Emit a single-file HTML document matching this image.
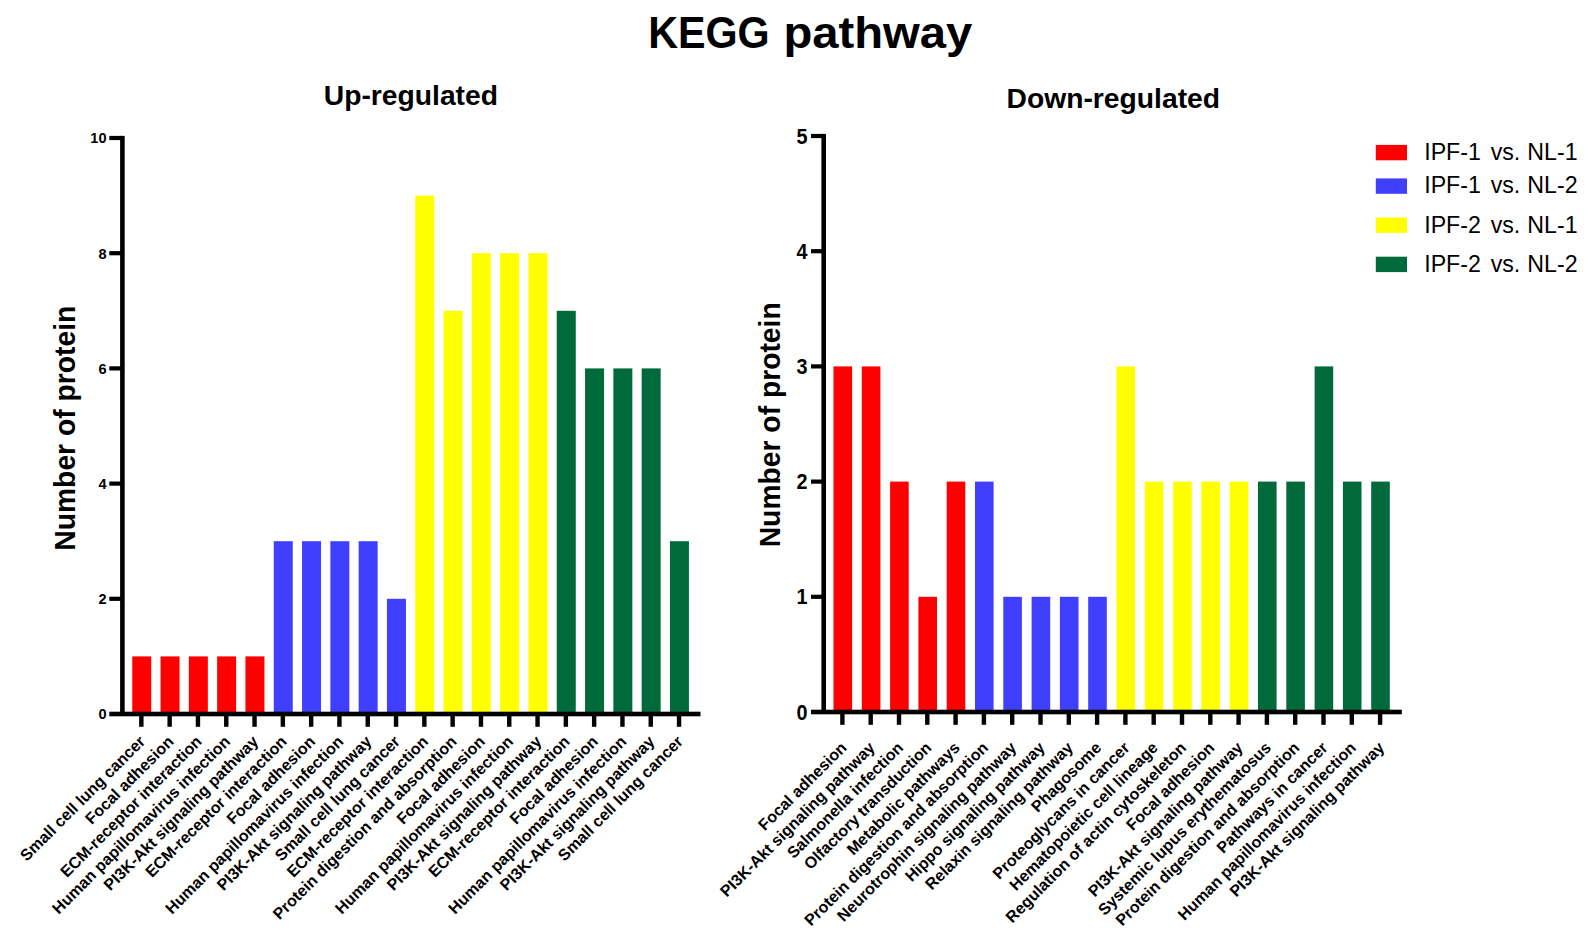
<!DOCTYPE html>
<html lang="en"><head><meta charset="utf-8"><title>KEGG pathway</title>
<style>
html,body{margin:0;padding:0;background:#fff;}
body{width:1592px;height:942px;overflow:hidden;}
svg{display:block;font-family:"Liberation Sans",sans-serif;}
.b{font-weight:bold;}
.xl{font-weight:bold;font-size:16.08px;text-anchor:end;}
.yl{font-weight:bold;font-size:15px;text-anchor:end;}
.yr{font-weight:bold;font-size:22px;text-anchor:end;}
.lg{font-size:23.2px;}
</style></head><body>
<svg width="1592" height="942" viewBox="0 0 1592 942">
<rect width="1592" height="942" fill="#fff"/>
<text class="b" y="47.7" font-size="44"><tspan x="648.2" textLength="121.5" lengthAdjust="spacingAndGlyphs">KEGG</tspan><tspan> </tspan><tspan x="783.4" textLength="189" lengthAdjust="spacingAndGlyphs">pathway</tspan></text>
<text class="b" x="410.9" y="104.9" font-size="28.25" text-anchor="middle">Up-regulated</text>
<text class="b" x="1113.3" y="108.2" font-size="28.25" text-anchor="middle">Down-regulated</text>
<text class="b" font-size="28.8" text-anchor="middle" transform="translate(74.9,428.2) rotate(-90)" textLength="245" lengthAdjust="spacingAndGlyphs">Number of protein</text>
<text class="b" font-size="28.8" text-anchor="middle" transform="translate(779.9,424.8) rotate(-90)" textLength="245" lengthAdjust="spacingAndGlyphs">Number of protein</text>
<g>
<rect x="132.25" y="656.40" width="19.00" height="57.60" fill="#fe0000"/>
<rect x="160.55" y="656.40" width="19.00" height="57.60" fill="#fe0000"/>
<rect x="188.85" y="656.40" width="19.00" height="57.60" fill="#fe0000"/>
<rect x="217.15" y="656.40" width="19.00" height="57.60" fill="#fe0000"/>
<rect x="245.45" y="656.40" width="19.00" height="57.60" fill="#fe0000"/>
<rect x="273.75" y="541.20" width="19.00" height="172.80" fill="#3f3ffd"/>
<rect x="302.05" y="541.20" width="19.00" height="172.80" fill="#3f3ffd"/>
<rect x="330.35" y="541.20" width="19.00" height="172.80" fill="#3f3ffd"/>
<rect x="358.65" y="541.20" width="19.00" height="172.80" fill="#3f3ffd"/>
<rect x="386.95" y="598.80" width="19.00" height="115.20" fill="#3f3ffd"/>
<rect x="415.25" y="195.60" width="19.00" height="518.40" fill="#ffff00"/>
<rect x="443.55" y="310.80" width="19.00" height="403.20" fill="#ffff00"/>
<rect x="471.85" y="253.20" width="19.00" height="460.80" fill="#ffff00"/>
<rect x="500.15" y="253.20" width="19.00" height="460.80" fill="#ffff00"/>
<rect x="528.45" y="253.20" width="19.00" height="460.80" fill="#ffff00"/>
<rect x="556.75" y="310.80" width="19.00" height="403.20" fill="#006a3b"/>
<rect x="585.05" y="368.40" width="19.00" height="345.60" fill="#006a3b"/>
<rect x="613.35" y="368.40" width="19.00" height="345.60" fill="#006a3b"/>
<rect x="641.65" y="368.40" width="19.00" height="345.60" fill="#006a3b"/>
<rect x="669.95" y="541.20" width="19.00" height="172.80" fill="#006a3b"/>
</g>
<g fill="#000">
<rect x="120.10" y="135.90" width="4.60" height="578.10"/>
<rect x="109.30" y="711.70" width="591.20" height="4.60"/>
<rect x="109.30" y="596.70" width="13.10" height="4.20"/>
<rect x="109.30" y="481.50" width="13.10" height="4.20"/>
<rect x="109.30" y="366.30" width="13.10" height="4.20"/>
<rect x="109.30" y="251.10" width="13.10" height="4.20"/>
<rect x="109.30" y="135.90" width="13.10" height="4.20"/>
<rect x="139.15" y="714.00" width="4.40" height="12.80"/>
<rect x="167.45" y="714.00" width="4.40" height="12.80"/>
<rect x="195.75" y="714.00" width="4.40" height="12.80"/>
<rect x="224.05" y="714.00" width="4.40" height="12.80"/>
<rect x="252.35" y="714.00" width="4.40" height="12.80"/>
<rect x="280.65" y="714.00" width="4.40" height="12.80"/>
<rect x="308.95" y="714.00" width="4.40" height="12.80"/>
<rect x="337.25" y="714.00" width="4.40" height="12.80"/>
<rect x="365.55" y="714.00" width="4.40" height="12.80"/>
<rect x="393.85" y="714.00" width="4.40" height="12.80"/>
<rect x="422.15" y="714.00" width="4.40" height="12.80"/>
<rect x="450.45" y="714.00" width="4.40" height="12.80"/>
<rect x="478.75" y="714.00" width="4.40" height="12.80"/>
<rect x="507.05" y="714.00" width="4.40" height="12.80"/>
<rect x="535.35" y="714.00" width="4.40" height="12.80"/>
<rect x="563.65" y="714.00" width="4.40" height="12.80"/>
<rect x="591.95" y="714.00" width="4.40" height="12.80"/>
<rect x="620.25" y="714.00" width="4.40" height="12.80"/>
<rect x="648.55" y="714.00" width="4.40" height="12.80"/>
<rect x="676.85" y="714.00" width="4.40" height="12.80"/>
</g>
<g class="yl">
<text transform="translate(106.5,719.3) scale(0.970,1)">0</text>
<text transform="translate(106.5,604.1) scale(0.970,1)">2</text>
<text transform="translate(106.5,488.9) scale(0.970,1)">4</text>
<text transform="translate(106.5,373.7) scale(0.970,1)">6</text>
<text transform="translate(106.5,258.5) scale(0.970,1)">8</text>
<text transform="translate(106.5,143.3) scale(0.970,1)">10</text>
</g>
<g class="xl">
<text transform="translate(146.2,742.5) rotate(-45)">Small cell lung cancer</text>
<text transform="translate(174.6,742.5) rotate(-45)">Focal adhesion</text>
<text transform="translate(202.8,742.5) rotate(-45)">ECM-receptor interaction</text>
<text transform="translate(231.2,742.5) rotate(-45)">Human papillomavirus infection</text>
<text transform="translate(259.4,742.5) rotate(-45)">PI3K-Akt signaling pathway</text>
<text transform="translate(287.8,742.5) rotate(-45)">ECM-receptor interaction</text>
<text transform="translate(316.1,742.5) rotate(-45)">Focal adhesion</text>
<text transform="translate(344.4,742.5) rotate(-45)">Human papillomavirus infection</text>
<text transform="translate(372.6,742.5) rotate(-45)">PI3K-Akt signaling pathway</text>
<text transform="translate(401.0,742.5) rotate(-45)">Small cell lung cancer</text>
<text transform="translate(429.2,742.5) rotate(-45)">ECM-receptor interaction</text>
<text transform="translate(457.6,742.5) rotate(-45)">Protein digestion and absorption</text>
<text transform="translate(485.9,742.5) rotate(-45)">Focal adhesion</text>
<text transform="translate(514.2,742.5) rotate(-45)">Human papillomavirus infection</text>
<text transform="translate(542.5,742.5) rotate(-45)">PI3K-Akt signaling pathway</text>
<text transform="translate(570.8,742.5) rotate(-45)">ECM-receptor interaction</text>
<text transform="translate(599.0,742.5) rotate(-45)">Focal adhesion</text>
<text transform="translate(627.4,742.5) rotate(-45)">Human papillomavirus infection</text>
<text transform="translate(655.7,742.5) rotate(-45)">PI3K-Akt signaling pathway</text>
<text transform="translate(684.0,742.5) rotate(-45)">Small cell lung cancer</text>
</g>
<g>
<rect x="833.50" y="366.40" width="18.60" height="345.60" fill="#fe0000"/>
<rect x="861.80" y="366.40" width="18.60" height="345.60" fill="#fe0000"/>
<rect x="890.10" y="481.60" width="18.60" height="230.40" fill="#fe0000"/>
<rect x="918.40" y="596.80" width="18.60" height="115.20" fill="#fe0000"/>
<rect x="946.70" y="481.60" width="18.60" height="230.40" fill="#fe0000"/>
<rect x="975.00" y="481.60" width="18.60" height="230.40" fill="#3f3ffd"/>
<rect x="1003.30" y="596.80" width="18.60" height="115.20" fill="#3f3ffd"/>
<rect x="1031.60" y="596.80" width="18.60" height="115.20" fill="#3f3ffd"/>
<rect x="1059.90" y="596.80" width="18.60" height="115.20" fill="#3f3ffd"/>
<rect x="1088.20" y="596.80" width="18.60" height="115.20" fill="#3f3ffd"/>
<rect x="1116.50" y="366.40" width="18.60" height="345.60" fill="#ffff00"/>
<rect x="1144.80" y="481.60" width="18.60" height="230.40" fill="#ffff00"/>
<rect x="1173.10" y="481.60" width="18.60" height="230.40" fill="#ffff00"/>
<rect x="1201.40" y="481.60" width="18.60" height="230.40" fill="#ffff00"/>
<rect x="1229.70" y="481.60" width="18.60" height="230.40" fill="#ffff00"/>
<rect x="1258.00" y="481.60" width="18.60" height="230.40" fill="#006a3b"/>
<rect x="1286.30" y="481.60" width="18.60" height="230.40" fill="#006a3b"/>
<rect x="1314.60" y="366.40" width="18.60" height="345.60" fill="#006a3b"/>
<rect x="1342.90" y="481.60" width="18.60" height="230.40" fill="#006a3b"/>
<rect x="1371.20" y="481.60" width="18.60" height="230.40" fill="#006a3b"/>
</g>
<g fill="#000">
<rect x="821.40" y="133.90" width="4.60" height="578.10"/>
<rect x="811.00" y="709.70" width="590.80" height="4.60"/>
<rect x="811.00" y="594.70" width="12.70" height="4.20"/>
<rect x="811.00" y="479.50" width="12.70" height="4.20"/>
<rect x="811.00" y="364.30" width="12.70" height="4.20"/>
<rect x="811.00" y="249.10" width="12.70" height="4.20"/>
<rect x="811.00" y="133.90" width="12.70" height="4.20"/>
<rect x="840.20" y="712.00" width="4.40" height="12.80"/>
<rect x="868.50" y="712.00" width="4.40" height="12.80"/>
<rect x="896.80" y="712.00" width="4.40" height="12.80"/>
<rect x="925.10" y="712.00" width="4.40" height="12.80"/>
<rect x="953.40" y="712.00" width="4.40" height="12.80"/>
<rect x="981.70" y="712.00" width="4.40" height="12.80"/>
<rect x="1010.00" y="712.00" width="4.40" height="12.80"/>
<rect x="1038.30" y="712.00" width="4.40" height="12.80"/>
<rect x="1066.60" y="712.00" width="4.40" height="12.80"/>
<rect x="1094.90" y="712.00" width="4.40" height="12.80"/>
<rect x="1123.20" y="712.00" width="4.40" height="12.80"/>
<rect x="1151.50" y="712.00" width="4.40" height="12.80"/>
<rect x="1179.80" y="712.00" width="4.40" height="12.80"/>
<rect x="1208.10" y="712.00" width="4.40" height="12.80"/>
<rect x="1236.40" y="712.00" width="4.40" height="12.80"/>
<rect x="1264.70" y="712.00" width="4.40" height="12.80"/>
<rect x="1293.00" y="712.00" width="4.40" height="12.80"/>
<rect x="1321.30" y="712.00" width="4.40" height="12.80"/>
<rect x="1349.60" y="712.00" width="4.40" height="12.80"/>
<rect x="1377.90" y="712.00" width="4.40" height="12.80"/>
</g>
<g class="yr">
<text transform="translate(807.6,719.6) scale(0.900,1)">0</text>
<text transform="translate(807.6,604.4) scale(0.900,1)">1</text>
<text transform="translate(807.6,489.2) scale(0.900,1)">2</text>
<text transform="translate(807.6,374.0) scale(0.900,1)">3</text>
<text transform="translate(807.6,258.8) scale(0.900,1)">4</text>
<text transform="translate(807.6,143.6) scale(0.900,1)">5</text>
</g>
<g class="xl">
<text transform="translate(847.6,748.7) rotate(-45)">Focal adhesion</text>
<text transform="translate(875.9,748.7) rotate(-45)">PI3K-Akt signaling pathway</text>
<text transform="translate(904.2,748.7) rotate(-45)">Salmonella infection</text>
<text transform="translate(932.5,748.7) rotate(-45)">Olfactory transduction</text>
<text transform="translate(960.8,748.7) rotate(-45)">Metabolic pathways</text>
<text transform="translate(989.1,748.7) rotate(-45)">Protein digestion and absorption</text>
<text transform="translate(1017.4,748.7) rotate(-45)">Neurotrophin signaling pathway</text>
<text transform="translate(1045.7,748.7) rotate(-45)">Hippo signaling pathway</text>
<text transform="translate(1074.0,748.7) rotate(-45)">Relaxin signaling pathway</text>
<text transform="translate(1102.3,748.7) rotate(-45)">Phagosome</text>
<text transform="translate(1130.6,748.7) rotate(-45)">Proteoglycans in cancer</text>
<text transform="translate(1158.9,748.7) rotate(-45)">Hematopoietic cell lineage</text>
<text transform="translate(1187.2,748.7) rotate(-45)">Regulation of actin cytoskeleton</text>
<text transform="translate(1215.5,748.7) rotate(-45)">Focal adhesion</text>
<text transform="translate(1243.8,748.7) rotate(-45)">PI3K-Akt signaling pathway</text>
<text transform="translate(1272.1,748.7) rotate(-45)">Systemic lupus erythematosus</text>
<text transform="translate(1300.4,748.7) rotate(-45)">Protein digestion and absorption</text>
<text transform="translate(1328.7,748.7) rotate(-45)">Pathways in cancer</text>
<text transform="translate(1357.0,748.7) rotate(-45)">Human papillomavirus infection</text>
<text transform="translate(1385.3,748.7) rotate(-45)">PI3K-Akt signaling pathway</text>
</g>
<g class="lg">
<rect x="1375.8" y="144.9" width="31.2" height="15.4" fill="#fe0000"/>
<text x="1424.2" y="159.9">IPF-1 <tspan dx="3.3">vs.</tspan> <tspan dx="0.6">NL-1</tspan></text>
<rect x="1375.8" y="178.4" width="31.2" height="15.4" fill="#3f3ffd"/>
<text x="1424.2" y="193.4">IPF-1 <tspan dx="3.3">vs.</tspan> <tspan dx="0.6">NL-2</tspan></text>
<rect x="1375.8" y="217.5" width="31.2" height="15.4" fill="#ffff00"/>
<text x="1424.2" y="232.5">IPF-2 <tspan dx="3.3">vs.</tspan> <tspan dx="0.6">NL-1</tspan></text>
<rect x="1375.8" y="256.7" width="31.2" height="15.4" fill="#006a3b"/>
<text x="1424.2" y="271.7">IPF-2 <tspan dx="3.3">vs.</tspan> <tspan dx="0.6">NL-2</tspan></text>
</g>
</svg></body></html>
